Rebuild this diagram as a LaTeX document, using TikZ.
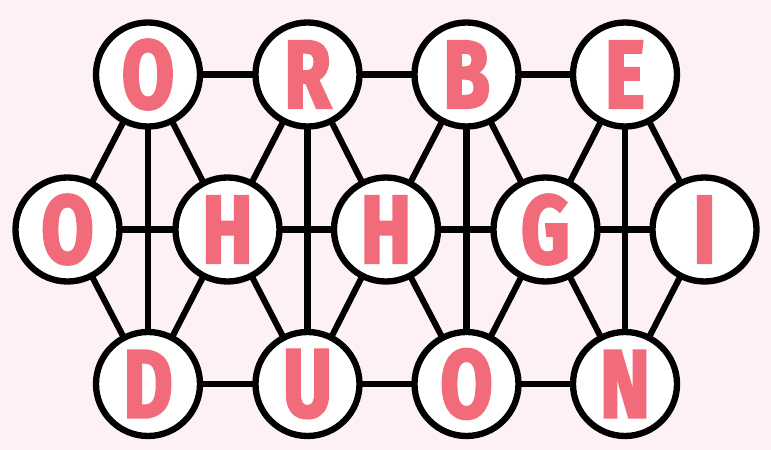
\documentclass[tikz,border=0pt]{standalone}
\usepackage{fontspec}
\usetikzlibrary{positioning,backgrounds}
\newfontfamily\letterfont[FakeStretch=0.78,FakeBold=3]{Fira Sans}
\definecolor{GridPink}{HTML}{F26B7B}
\definecolor{GridBack}{HTML}{FDF1F6}
\pgfdeclarelayer{backdrop}
\pgfsetlayers{backdrop,background,main}

\begin{document}
\begin{tikzpicture}[
    x=0.03cm, y=-0.03cm,
    ball/.style={
      circle,
      draw=black,
      fill=white,
      line width=5.4pt,
      minimum size=3.12cm,
      inner sep=0pt,
      text=GridPink,
      font=\letterfont\bfseries\fontsize{82}{82}\selectfont
    },
    link/.style={
      line width=5.2pt,
      draw=black
    }]

    % Background
    \begin{pgfonlayer}{backdrop}
      \fill[GridBack] (0,0) rectangle (771,450);
    \end{pgfonlayer}
    \useasboundingbox (0,0) rectangle (771,450);

    % Top row
    \node[ball] (t1) at (148,74.5) {O};
    \node[ball] (t2) at (307.5,74.5) {R};
    \node[ball] (t3) at (466.5,74.5) {B};
    \node[ball] (t4) at (625,74.5) {E};

    % Middle row
    \node[ball] (m1) at (67.5,229.5) {O};
    \node[ball] (m2) at (227.5,229.5) {H};
    \node[ball] (m3) at (386,229.5) {H};
    \node[ball] (m4) at (545.5,229.5) {G};
    \node[ball] (m5) at (704.5,229.5) {I};

    % Bottom row
    \node[ball] (b1) at (148,384) {D};
    \node[ball] (b2) at (307.5,384) {U};
    \node[ball] (b3) at (466.5,384) {O};
    \node[ball] (b4) at (625,384) {N};

    % Links, drawn behind the balls
    \begin{scope}[on background layer]
      % rows
      \draw[link] (t1.center) -- (t2.center) -- (t3.center) -- (t4.center);
      \draw[link] (m1.center) -- (m2.center) -- (m3.center) -- (m4.center) -- (m5.center);
      \draw[link] (b1.center) -- (b2.center) -- (b3.center) -- (b4.center);
      % columns
      \foreach \i in {1,2,3,4} {
        \draw[link] (t\i.center) -- (b\i.center);
      }
      % diagonals
      \foreach \i [evaluate=\i as \j using int(\i+1)] in {1,2,3,4} {
        \draw[link] (m\i.center) -- (t\i.center) -- (m\j.center);
        \draw[link] (m\i.center) -- (b\i.center) -- (m\j.center);
      }
    \end{scope}
  \end{tikzpicture}
\end{document}
